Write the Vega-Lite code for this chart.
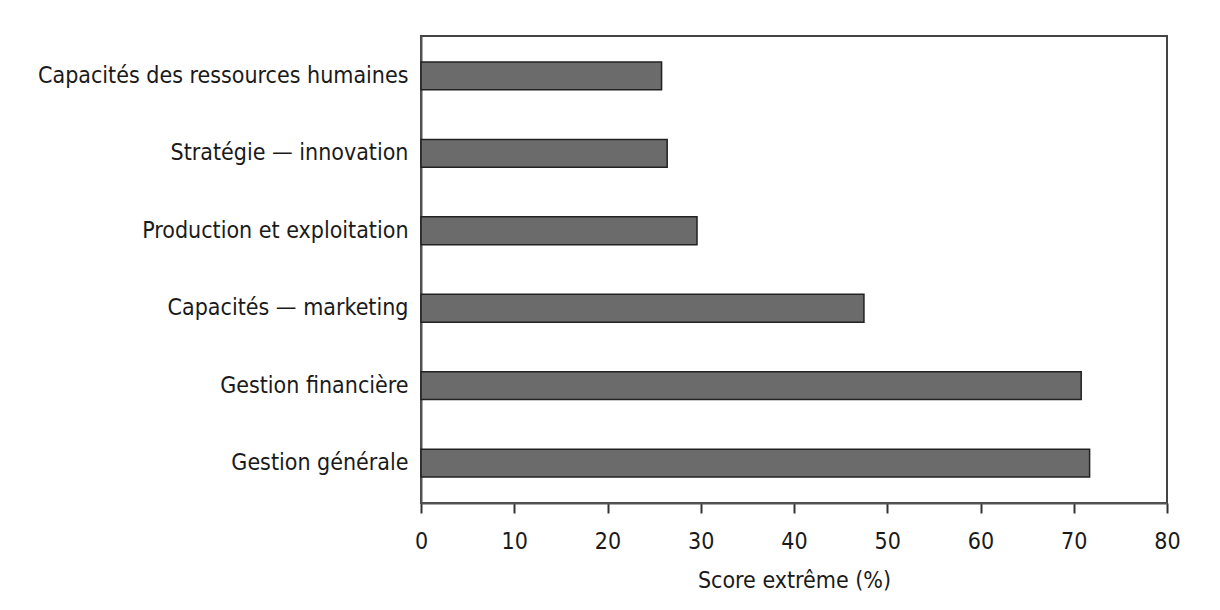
{
  "$schema": "https://vega.github.io/schema/vega-lite/v6.json",
  "autosize": "none",
  "padding": {"left": 421, "top": 36, "right": 53, "bottom": 107},
  "width": 746,
  "height": 467,
  "background": "white",
  "config": {
    "view": {"stroke": "#444444", "strokeWidth": 2},
    "font": "DejaVu Sans Condensed"
  },
  "data": {
    "values": [
      {"domaine": "Capacités des ressources humaines", "score": 25.8},
      {"domaine": "Stratégie — innovation ", "score": 26.4},
      {"domaine": "Production et exploitation", "score": 29.6},
      {"domaine": "Capacités — marketing", "score": 47.5},
      {"domaine": "Gestion financière", "score": 70.8},
      {"domaine": "Gestion générale", "score": 71.7}
    ]
  },
  "mark": {"type": "bar", "fill": "#6b6b6b", "stroke": "#222222", "strokeWidth": 1.5},
  "encoding": {
    "y": {
      "field": "domaine",
      "type": "nominal",
      "sort": null,
      "scale": {"paddingInner": 0.64, "paddingOuter": 0.335},
      "axis": {
        "title": null,
        "ticks": false,
        "domain": true,
        "domainColor": "#555555",
        "domainWidth": 2,
        "labelFontSize": 23,
        "labelColor": "#1a1a1a",
        "labelPadding": 13,
        "labelLimit": 420,
        "grid": false
      }
    },
    "x": {
      "field": "score",
      "type": "quantitative",
      "scale": {"domain": [0, 80], "nice": false},
      "axis": {
        "title": "Score extrême (%)",
        "titleFontSize": 23,
        "titleFontWeight": "normal",
        "titleColor": "#1a1a1a",
        "titlePadding": 16,
        "values": [0, 10, 20, 30, 40, 50, 60, 70, 80],
        "grid": false,
        "tickSize": 10,
        "tickWidth": 2,
        "tickColor": "#333333",
        "domainColor": "#555555",
        "domainWidth": 2,
        "labelFontSize": 23,
        "labelColor": "#1a1a1a",
        "labelPadding": 17,
        "labelFlush": false
      }
    }
  }
}
